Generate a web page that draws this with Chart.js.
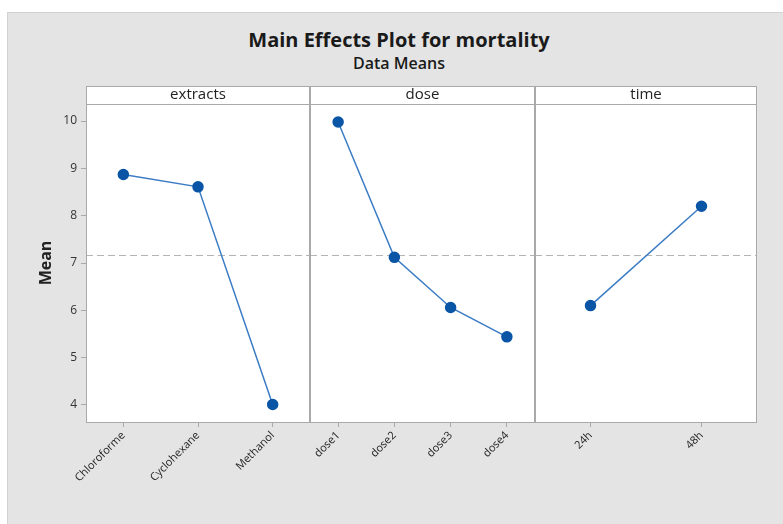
<!DOCTYPE html>
<html>
<head>
<meta charset="utf-8">
<script src="https://cdn.jsdelivr.net/npm/chart.js@4/dist/chart.umd.min.js"></script>
<style>
  body { margin: 0; width: 783px; height: 524px; position: relative; overflow: hidden; background: #fff; font-family: "Open Sans", sans-serif; }
  #fundo { position: absolute; left: 7px; top: 12px; width: 776px; height: 512px; background: #e4e4e4; border-left: 1px solid #d2d2d2; border-top: 1px solid #d2d2d2; }
  #titulo { position: absolute; left: 0; width: 798px; top: 26px; text-align: center; font-weight: bold; font-size: 20px; color: #1a1a1a; }
  #subtitulo { position: absolute; left: 0; width: 798px; top: 52px; text-align: center; font-size: 16px; font-weight: 600; color: #1a1a1a; }
  canvas { position: absolute; top: 0; }
</style>
</head>
<body>
<div id="fundo"></div>
<div id="titulo">Main Effects Plot for mortality</div>
<div id="subtitulo">Data Means</div>
<canvas id="g1" width="310" height="524" style="left:0px"></canvas>
<canvas id="g2" width="225" height="524" style="left:310px"></canvas>
<canvas id="g3" width="222" height="524" style="left:535px"></canvas>
<script>
// dados
const extratos = ["Chloroforme", "Cyclohexane", "Methanol"];
const mediasExtratos = [8.87, 8.61, 4.01];

const doses = ["dose1", "dose2", "dose3", "dose4"];
const mediasDoses = [9.98, 7.12, 6.06, 5.44];

const tempos = ["24h", "48h"];
const mediasTempos = [6.10, 8.20];

const mediaGeral = 7.16;
const ticksY = [4, 5, 6, 7, 8, 9, 10];
const yMin = 3.64;
const yMax = 10.36;

const COR_LINHA = "#3b7cc4";
const COR_PONTO = "#0a55a5";
const COR_BORDA = "#a9a9a9";

// fundo branco, faixa do título do painel, linha da média e moldura
const paineis = {
  id: "paineis",
  beforeDraw(chart) {
    const { ctx, chartArea: a } = chart;
    ctx.save();
    ctx.fillStyle = "#fff";
    ctx.fillRect(a.left, a.top - 18, a.right - a.left, a.bottom - a.top + 18);
    ctx.restore();
  },
  beforeDatasetsDraw(chart) {
    const { ctx, chartArea: a, scales } = chart;
    const y = Math.round(scales.y.getPixelForValue(mediaGeral)) + 0.5;
    ctx.save();
    ctx.strokeStyle = "#b4b4b4";
    ctx.lineWidth = 1.2;
    ctx.setLineDash([7, 4]);
    ctx.beginPath();
    ctx.moveTo(a.left, y);
    ctx.lineTo(a.right, y);
    ctx.stroke();
    ctx.restore();
  },
  afterDraw(chart) {
    const { ctx, chartArea: a } = chart;
    const nome = chart.options.plugins.paineis.nome;
    ctx.save();
    ctx.strokeStyle = COR_BORDA;
    ctx.lineWidth = 1;
    ctx.strokeRect(a.left + 0.5, a.top - 17.5, a.right - a.left - 1, 18);
    ctx.strokeRect(a.left + 0.5, a.top + 0.5, a.right - a.left - 1, a.bottom - a.top);
    ctx.fillStyle = "#222";
    ctx.font = "15px 'Open Sans', sans-serif";
    ctx.textAlign = "center";
    ctx.textBaseline = "middle";
    ctx.fillText(nome, (a.left + a.right) / 2, a.top - 9);
    ctx.restore();
  }
};

function criarPainel(id, nome, labels, valores, comEixoY) {
  const ctx = document.getElementById(id).getContext("2d");
  return new Chart(ctx, {
    type: "line",
    data: {
      labels,
      datasets: [{
        data: valores,
        borderColor: COR_LINHA,
        borderWidth: 1.5,
        pointBackgroundColor: COR_PONTO,
        pointBorderColor: COR_PONTO,
        pointRadius: 5,
        tension: 0
      }]
    },
    options: {
      responsive: false,
      animation: false,
      layout: { autoPadding: false, padding: { top: 104, left: comEixoY ? 37 : 0, right: 0, bottom: 0 } },
      plugins: {
        legend: { display: false },
        tooltip: { enabled: false },
        paineis: { nome }
      },
      scales: {
        x: {
          type: "category",
          offset: true,
          grid: { offset: false, drawOnChartArea: false, drawTicks: true, tickLength: 5, color: COR_BORDA },
          border: { display: false },
          ticks: { minRotation: 45, maxRotation: 45, padding: 2, color: "#222", font: { family: "Open Sans", size: 11 }, autoSkip: false },
          afterFit(scale) {
            scale.height = 102;
            scale.paddingLeft = 0;
            scale.paddingRight = 0;
          }
        },
        y: {
          display: comEixoY,
          min: yMin,
          max: yMax,
          afterBuildTicks(scale) { scale.ticks = ticksY.map(v => ({ value: v })); },
          grid: { drawOnChartArea: false, drawTicks: true, tickLength: 5, color: COR_BORDA },
          border: { display: false },
          ticks: { padding: 4, color: "#333", font: { family: "Open Sans", size: 12 } },
          title: { display: comEixoY, text: "Mean", color: "#222", font: { family: "Open Sans", size: 16, weight: "bold" }, padding: 0 },
          afterFit(scale) { if (comEixoY) scale.width = 49; }
        }
      }
    },
    plugins: [paineis]
  });
}

criarPainel("g1", "extracts", extratos, mediasExtratos, true);
criarPainel("g2", "dose", doses, mediasDoses, false);
criarPainel("g3", "time", tempos, mediasTempos, false);
</script>
</body>
</html>
